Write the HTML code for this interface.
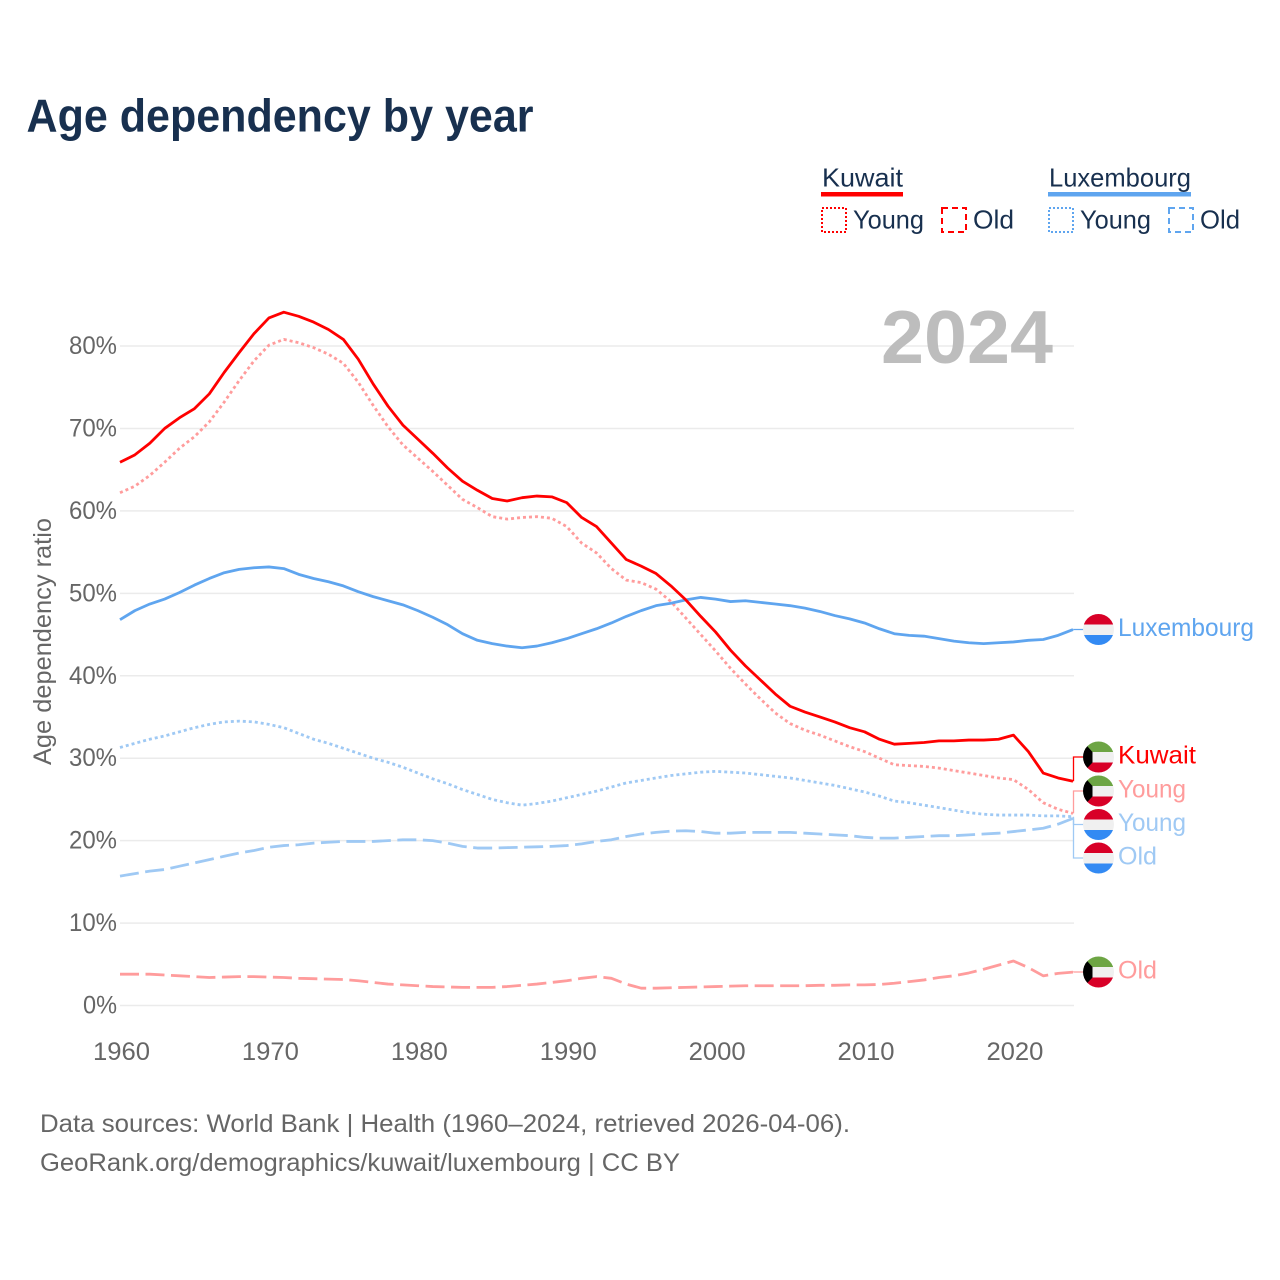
<!DOCTYPE html>
<html lang="en">
<head>
<meta charset="utf-8">
<title>Age dependency by year</title>
<style>
  html, body { margin: 0; padding: 0; background: #fff; }
  svg { display: block; font-family: "Liberation Sans", sans-serif; }
</style>
</head>
<body>
<svg id="chart" width="1280" height="1280" viewBox="0 0 1280 1280" xmlns="http://www.w3.org/2000/svg">
  <defs>
    <clipPath id="flag-clip"><circle cx="0" cy="0" r="15.5"/></clipPath>
  </defs>
  <rect width="1280" height="1280" fill="#fff"/>
  <text x="26.5" y="131.5" font-size="46" font-weight="700" fill="#18304f" textLength="507" lengthAdjust="spacingAndGlyphs">Age dependency by year</text>

  <g font-size="26" fill="#18304f">
    <text x="822" y="186.5" textLength="81" lengthAdjust="spacingAndGlyphs">Kuwait</text>
    <rect x="821" y="192" width="82" height="4.5" fill="#ff0000"/>
    <rect x="822" y="208" width="24" height="24" fill="none" stroke="#ff0000" stroke-width="2" stroke-dasharray="2 2"/>
    <text x="853" y="228.5" textLength="71" lengthAdjust="spacingAndGlyphs">Young</text>
    <rect x="942" y="208" width="24" height="24" fill="none" stroke="#ff0000" stroke-width="2" stroke-dasharray="6 4"/>
    <text x="973" y="228.5" textLength="41" lengthAdjust="spacingAndGlyphs">Old</text>
    <text x="1049" y="186.5" textLength="142" lengthAdjust="spacingAndGlyphs">Luxembourg</text>
    <rect x="1048" y="192" width="143" height="4.5" fill="#5fa5ef"/>
    <rect x="1049" y="208" width="24" height="24" fill="none" stroke="#5fa5ef" stroke-width="2" stroke-dasharray="2 2"/>
    <text x="1080" y="228.5" textLength="71" lengthAdjust="spacingAndGlyphs">Young</text>
    <rect x="1169" y="208" width="24" height="24" fill="none" stroke="#5fa5ef" stroke-width="2" stroke-dasharray="6 4"/>
    <text x="1200" y="228.5" textLength="40" lengthAdjust="spacingAndGlyphs">Old</text>
  </g>

  <g id="grid"></g>
  <text x="881" y="363" font-size="75" font-weight="700" fill="#bdbdbd" textLength="172" lengthAdjust="spacingAndGlyphs">2024</text>
  <g id="yticks" font-size="25" fill="#666"></g>
  <g id="xticks" font-size="25" fill="#666"></g>
  <text transform="translate(51 765) rotate(-90)" font-size="25" fill="#666" textLength="247" lengthAdjust="spacingAndGlyphs">Age dependency ratio</text>
  <g id="series"></g>
  <g id="labels"></g>

  <g font-size="25" fill="#666">
    <text x="40" y="1132" textLength="810" lengthAdjust="spacingAndGlyphs">Data sources: World Bank | Health (1960–2024, retrieved 2026-04-06).</text>
    <text x="40" y="1171" textLength="640" lengthAdjust="spacingAndGlyphs">GeoRank.org/demographics/kuwait/luxembourg | CC BY</text>
  </g>
</svg>
<script>
const startYear = 1960;
const endYear = 2024;
const xTickYears = [1960, 1970, 1980, 1990, 2000, 2010, 2020];
const yTickValues = [0, 10, 20, 30, 40, 50, 60, 70, 80];

const kuwaitTotal = [65.9,66.8,68.2,70,71.3,72.4,74.2,76.8,79.2,81.5,83.4,84.1,83.6,82.9,82,80.8,78.4,75.4,72.7,70.4,68.7,67,65.2,63.6,62.5,61.5,61.2,61.6,61.8,61.7,61,59.2,58.1,56.1,54.1,53.3,52.4,50.9,49.2,47.2,45.3,43.1,41.2,39.5,37.8,36.3,35.6,35,34.4,33.7,33.2,32.3,31.7,31.8,31.9,32.1,32.1,32.2,32.2,32.3,32.8,30.8,28.2,27.6,27.2];
const kuwaitYoung = [62.2,63,64.3,65.9,67.6,69,70.8,73.2,75.8,78.2,80.1,80.8,80.4,79.8,79,77.9,75.6,72.8,70.2,68,66.4,64.8,63.1,61.4,60.4,59.3,59,59.2,59.3,59.1,58.1,56.1,54.9,53,51.6,51.3,50.5,49,47,45,43,40.9,39,37.2,35.5,34.2,33.4,32.8,32.1,31.4,30.8,30,29.2,29.1,29,28.8,28.5,28.2,27.9,27.6,27.4,26.2,24.6,23.8,23.3];
const kuwaitOld = [3.8,3.8,3.8,3.7,3.6,3.5,3.4,3.45,3.5,3.5,3.45,3.4,3.3,3.25,3.2,3.15,3,2.8,2.6,2.5,2.4,2.3,2.25,2.2,2.2,2.2,2.3,2.45,2.6,2.8,3,3.3,3.5,3.3,2.6,2.1,2.1,2.15,2.2,2.25,2.3,2.35,2.4,2.4,2.4,2.4,2.4,2.45,2.45,2.5,2.5,2.55,2.7,2.9,3.1,3.4,3.6,3.95,4.4,4.9,5.4,4.6,3.6,3.9,4.05];
const luxTotal = [46.8,47.9,48.7,49.3,50.1,51,51.8,52.5,52.9,53.1,53.2,53,52.3,51.8,51.4,50.9,50.2,49.6,49.1,48.6,47.9,47.1,46.2,45.1,44.3,43.9,43.6,43.4,43.6,44,44.5,45.1,45.7,46.4,47.2,47.9,48.5,48.8,49.2,49.5,49.3,49,49.1,48.9,48.7,48.5,48.2,47.8,47.3,46.9,46.4,45.7,45.1,44.9,44.8,44.5,44.2,44,43.9,44,44.1,44.3,44.4,44.9,45.6];
const luxYoung = [31.3,31.8,32.3,32.7,33.2,33.7,34.1,34.4,34.5,34.4,34.1,33.7,33,32.3,31.8,31.2,30.6,30,29.5,28.9,28.2,27.5,26.9,26.2,25.6,25,24.6,24.3,24.5,24.8,25.2,25.6,26,26.5,27,27.3,27.6,27.9,28.1,28.3,28.4,28.3,28.2,28,27.8,27.6,27.3,27,26.7,26.3,25.9,25.4,24.8,24.6,24.3,24,23.7,23.4,23.2,23.1,23.1,23.1,23,23,22.9];
const luxOld = [15.7,16,16.3,16.5,16.9,17.3,17.7,18.1,18.5,18.8,19.2,19.4,19.5,19.7,19.8,19.9,19.9,19.9,20,20.1,20.1,20,19.7,19.3,19.1,19.1,19.15,19.2,19.25,19.3,19.4,19.6,19.9,20.1,20.5,20.8,21,21.15,21.2,21.1,20.9,20.9,21,21,21,21,20.9,20.8,20.7,20.6,20.4,20.3,20.3,20.4,20.5,20.6,20.6,20.7,20.8,20.9,21.1,21.3,21.5,22,22.7];

const NS = 'http://www.w3.org/2000/svg';
const xScale = y => 120 + (y - startYear) * (1073 - 120) / (endYear - startYear);
const yScale = v => 1005.5 - v * (1005.5 - 346) / 80;

function make(parent, tag, attrs, text) {
  const el = document.createElementNS(NS, tag);
  for (const k in attrs) el.setAttribute(k, attrs[k]);
  if (text !== undefined) el.textContent = text;
  parent.appendChild(el);
  return el;
}

const grid = document.getElementById('grid');
const yticks = document.getElementById('yticks');
yTickValues.forEach(v => {
  const line = make(grid, 'line', { x1: 120, x2: 1074, y1: yScale(v), y2: yScale(v), stroke: '#ebebeb', 'stroke-width': 1.5 });
  
  
  const label = make(yticks, 'text', { x: 117, y: yScale(v) + 8, 'text-anchor': 'end', textLength: v === 0 ? 34 : 48, lengthAdjust: 'spacingAndGlyphs' }, v + '%');
  
  
});

const xticks = document.getElementById('xticks');
xTickYears.forEach(y => {
  const label = make(xticks, 'text', { x: xScale(y) + 1.5, y: 1060, 'text-anchor': 'middle', textLength: 57, lengthAdjust: 'spacingAndGlyphs' }, String(y));
  
  
});

const seriesLayer = document.getElementById('series');
function drawLine(values, color, width, dash, name) {
  const d = values.map((v, i) => (i ? 'L' : 'M') + xScale(startYear + i).toFixed(2) + ' ' + yScale(v).toFixed(2)).join('');
  const attrs = { d: d, fill: 'none', stroke: color, 'stroke-width': width, 'stroke-linejoin': 'round' };
  if (dash) attrs['stroke-dasharray'] = dash;
  const path = make(seriesLayer, 'path', attrs);
  
  
}
const RED = '#ff0000', RED_L = '#ff9c9c', BLUE = '#5fa5ef', BLUE_L = '#9fc9f4';
drawLine(luxOld, BLUE_L, 2.8, '19 6.5', 'line-luxembourg-old');
drawLine(kuwaitOld, RED_L, 2.8, '19 6.5', 'line-kuwait-old');
drawLine(luxYoung, BLUE_L, 2.8, '3 3', 'line-luxembourg-young');
drawLine(kuwaitYoung, RED_L, 2.8, '3 3', 'line-kuwait-young');
drawLine(luxTotal, BLUE, 2.8, null, 'line-luxembourg-total');
drawLine(kuwaitTotal, RED, 2.8, null, 'line-kuwait-total');

const labelsLayer = document.getElementById('labels');
function flag(parent, country, cy) {
  const g = make(parent, 'g', { transform: 'translate(1098.5 ' + cy + ')', 'clip-path': 'url(#flag-clip)' });
  
  
  if (country === 'luxembourg') {
    make(g, 'rect', { x: -16, y: -16, width: 32, height: 11, fill: '#d80027' });
    make(g, 'rect', { x: -16, y: -5, width: 32, height: 10.5, fill: '#f0f0f0' });
    make(g, 'rect', { x: -16, y: 5.5, width: 32, height: 11, fill: '#338af3' });
  } else {
    make(g, 'rect', { x: -16, y: -16, width: 32, height: 11, fill: '#6da544' });
    make(g, 'rect', { x: -16, y: -5, width: 32, height: 10.5, fill: '#f0f0f0' });
    make(g, 'rect', { x: -16, y: 5.5, width: 32, height: 11, fill: '#d80027' });
    make(g, 'polygon', { points: '-16,-16 -6,-5 -6,5.5 -16,16', fill: '#000' });
  }
}
function endLabel(text, country, values, color, flagY, width, name) {
  const endY = yScale(values[values.length - 1]);
  const link = make(labelsLayer, 'path', { d: 'M1073.5 ' + endY.toFixed(2) + 'L1073.5 ' + flagY + 'L1084 ' + flagY, fill: 'none', stroke: color, 'stroke-width': 1.3 });
  
  
  flag(labelsLayer, country, flagY);
  const t = make(labelsLayer, 'text', { x: 1118, y: flagY + 6.5, 'font-size': 25, fill: color, textLength: width, lengthAdjust: 'spacingAndGlyphs' }, text);
  
  
}
endLabel('Luxembourg', 'luxembourg', luxTotal, BLUE, 629.5, 136, 'luxembourg-total');
endLabel('Kuwait', 'kuwait', kuwaitTotal, RED, 757, 78, 'kuwait-total');
endLabel('Young', 'kuwait', kuwaitYoung, RED_L, 791, 68, 'kuwait-young');
endLabel('Young', 'luxembourg', luxYoung, BLUE_L, 824.5, 68, 'luxembourg-young');
endLabel('Old', 'luxembourg', luxOld, BLUE_L, 858, 39, 'luxembourg-old');
endLabel('Old', 'kuwait', kuwaitOld, RED_L, 972, 39, 'kuwait-old');
</script>
</body>
</html>
